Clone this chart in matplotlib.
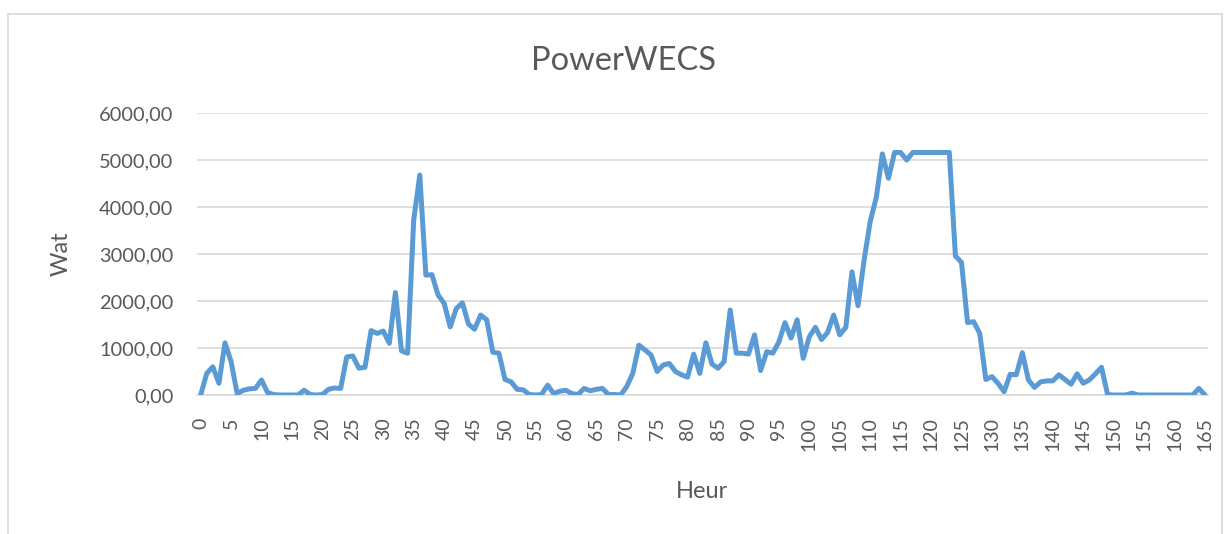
import numpy as np
from matplotlib import pyplot as plt
from matplotlib.patches import Rectangle
from matplotlib.ticker import FuncFormatter, MultipleLocator

# heures 0..165
heures = list(range(166))

# puissance WECS (W)
power_0_27 = [0, 460, 600, 250, 1110, 710, 30, 100, 130, 140,
              320, 50, 10, 0, 0, 0, 0, 100, 10, 0,
              10, 120, 150, 140, 810, 830, 570, 590]
power_28_55 = [1370, 1310, 1360, 1100, 2180, 940, 890, 3720, 4680, 2550,
               2560, 2130, 1950, 1450, 1840, 1960, 1510, 1400, 1700, 1600,
               910, 890, 330, 280, 120, 110, 10, 0]
power_56_83 = [10, 210, 30, 80, 100, 30, 10, 140, 90, 120,
               140, 10, 10, 0, 180, 460, 1060, 960, 850, 500,
               640, 670, 500, 430, 380, 870, 460, 1110]
power_84_111 = [660, 570, 710, 1810, 890, 890, 870, 1280, 520, 920,
                890, 1130, 1540, 1210, 1600, 780, 1240, 1440, 1180, 1330,
                1700, 1280, 1440, 2620, 1900, 2870, 3690, 4200]
power_112_139 = [5130, 4610, 5160, 5160, 5000, 5160, 5160, 5160, 5160, 5160,
                 5160, 5160, 2960, 2820, 1540, 1560, 1310, 330, 390, 250,
                 70, 440, 430, 900, 320, 160, 280, 300]
power_140_165 = [300, 430, 330, 230, 450, 250, 320, 450, 590, 10,
                 0, 0, 0, 40, 0, 0, 0, 0, 0, 0,
                 0, 0, 0, 0, 140, 0]

power = power_0_27 + power_28_55 + power_56_83 + power_84_111 + power_112_139 + power_140_165

grid_color = '#D9D9D9'
text_color = '#595959'
plt.rcParams['font.family'] = ['Lato', 'DejaVu Sans']

fig = plt.figure(figsize=(12.25, 5.34), dpi=100)
W, H = 1225, 534

# zone de tracé (en pixels de l'image de référence)
ax = fig.add_axes([197 / W, 1 - 395 / H, (1208 - 197) / W, (395 - 113) / H])

ax.plot(heures, power, color='#5B9BD5', linewidth=3.6, solid_joinstyle='round',
        solid_capstyle='round', zorder=3)

ax.set_xlim(-0.6, 165.5)
ax.set_ylim(0, 6000)
ax.yaxis.set_major_locator(MultipleLocator(1000))
ax.xaxis.set_major_locator(MultipleLocator(5))
ax.yaxis.set_major_formatter(FuncFormatter(lambda v, p: f'{v:.2f}'.replace('.', ',')))

ax.grid(axis='y', color=grid_color, linewidth=1.2)
ax.set_axisbelow(True)
for s in ['top', 'right', 'left']:
    ax.spines[s].set_visible(False)
ax.spines['bottom'].set_color(grid_color)
ax.spines['bottom'].set_linewidth(1.2)

ax.tick_params(axis='both', length=0, colors=text_color)
ax.tick_params(axis='y', labelsize=14.4, pad=17)
ax.tick_params(axis='x', labelsize=14, pad=16, labelrotation=90)

ax.set_ylabel('Wat', fontsize=17, color=text_color)
ax.yaxis.set_label_coords(-0.124, 0.5)
ax.set_xlabel('Heur', fontsize=17, color=text_color)
ax.xaxis.set_label_coords(0.5, (395 - 492) / 282)
ax.xaxis.label.set_va('center')

fig.text(623 / W, 1 - 61 / H, 'PowerWECS', fontsize=23.5, color=text_color,
         ha='center', va='center')

# cadre du graphique
fig.patches.append(Rectangle((8 / W, -0.1), (1222 - 8) / W, 1.1 - 14 / H,
                             transform=fig.transFigure, fill=False,
                             edgecolor=grid_color, linewidth=1.2))

fig.savefig('out.png', dpi=100)
